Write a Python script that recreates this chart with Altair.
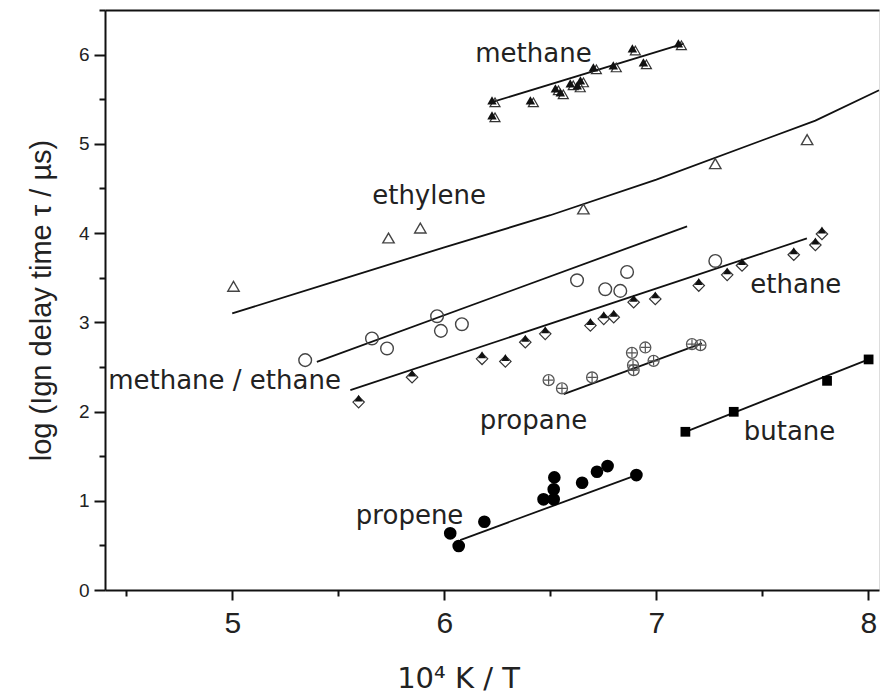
import altair as alt
import pandas as pd

# ---------------- data ----------------
methane_x = [6.225, 6.225, 6.406, 6.524, 6.547, 6.594, 6.627, 6.642, 6.703, 6.797, 6.887, 6.939, 7.104]
methane_y = [5.487, 5.319, 5.487, 5.622, 5.577, 5.678, 5.655, 5.711, 5.857, 5.879, 6.069, 5.913, 6.126]
methane_fit_x = [6.225, 7.129]
methane_fit_y = [5.468, 6.122]

ethylene_x = [5.006, 5.737, 5.887, 6.656, 7.278, 7.711]
ethylene_y = [3.404, 3.945, 4.057, 4.270, 4.778, 5.047]
ethylene_fit_x = [5.0, 5.5, 6.0, 6.5, 7.0, 7.5, 7.75, 8.05]
ethylene_fit_y = [3.10, 3.47, 3.84, 4.20, 4.60, 5.04, 5.26, 5.60]

mixture_x = [5.344, 5.659, 5.730, 5.966, 5.984, 6.083, 6.626, 6.759, 6.830, 6.862, 7.278]
mixture_y = [2.576, 2.819, 2.707, 3.068, 2.904, 2.979, 3.471, 3.371, 3.352, 3.564, 3.688]
mixture_fit_x = [5.399, 7.145]
mixture_fit_y = [2.557, 4.076]

ethane_x = [5.596, 5.848, 6.178, 6.288, 6.382, 6.476, 6.689, 6.752, 6.799, 6.893, 6.995,
            7.200, 7.334, 7.404, 7.648, 7.750, 7.781]
ethane_y = [2.128, 2.408, 2.613, 2.584, 2.800, 2.893, 2.986, 3.061, 3.080, 3.248, 3.285,
            3.434, 3.554, 3.659, 3.779, 3.889, 4.012]
ethane_fit_x = [5.557, 7.71]
ethane_fit_y = [2.240, 3.940]

propane_x = [6.492, 6.555, 6.697, 6.885, 6.948, 6.893, 6.890, 6.987, 7.168, 7.208]
propane_y = [2.352, 2.259, 2.382, 2.658, 2.718, 2.464, 2.520, 2.568, 2.755, 2.744]
propane_fit_x = [6.563, 7.215]
propane_fit_y = [2.195, 2.763]

propene_x = [6.028, 6.068, 6.189, 6.468, 6.516, 6.516, 6.519, 6.650, 6.720, 6.770, 6.906]
propene_y = [0.635, 0.493, 0.765, 1.016, 1.016, 1.128, 1.262, 1.202, 1.325, 1.389, 1.288]
propene_fit_x = [6.075, 6.906]
propene_fit_y = [0.560, 1.288]

butane_x = [7.137, 7.365, 7.805, 8.001]
butane_y = [1.773, 1.997, 2.344, 2.584]
butane_fit_x = [7.137, 8.001]
butane_fit_y = [1.773, 2.584]

label_text = ["methane", "ethylene", "methane / ethane", "ethane", "propane", "butane", "propene"]
label_x = [6.146, 5.660, 4.415, 7.443, 6.167, 7.412, 5.583]
label_y = [6.010, 4.420, 2.340, 3.415, 1.890, 1.773, 0.830]

x_major = [5, 6, 7, 8]
x_minor = [4.5, 5.5, 6.5, 7.5]
y_major = [0, 1, 2, 3, 4, 5, 6]
y_minor = [0.5, 1.5, 2.5, 3.5, 4.5, 5.5, 6.5]


def df(xs, ys):
    return pd.DataFrame({"x": xs, "y": ys})


XS = alt.Scale(domain=[4.4, 8.05], nice=False, zero=False)
YS = alt.Scale(domain=[0, 6.5], nice=False, zero=False)


def pos():
    return dict(
        x=alt.X("x:Q", scale=XS, axis=None),
        y=alt.Y("y:Q", scale=YS, axis=None),
    )


axis_common = dict(
    domainColor="#111", domainWidth=2, tickColor="#111", tickWidth=2,
    labelColor="#222", titleColor="#222", grid=False,
)

# major axes
major = alt.Chart(df(butane_x, butane_y)).mark_point(opacity=0).encode(
    x=alt.X("x:Q", scale=XS, axis=alt.Axis(
        orient="bottom", values=x_major, title="10⁴ K / T", tickSize=10, labelPadding=8,
        labelFont="Liberation Sans", labelFontSize=30, labelFlush=False,
        titleFont="DejaVu Sans", titleFontSize=29, titleFontWeight="normal",
        titleX=353, titleY=97, titleBaseline="alphabetic", titleAlign="center",
        format="d", **axis_common)),
    y=alt.Y("y:Q", scale=YS, axis=alt.Axis(
        orient="left", values=y_major, title="log (Ign delay time τ / µs)", tickSize=11,
        labelPadding=5, labelFont="Liberation Sans", labelFontSize=19, labelFlush=False,
        titleFont="Liberation Sans", titleFontSize=29, titleFontWeight="normal",
        titlePadding=22, format="d", **axis_common)),
)

# minor ticks
minor = alt.Chart(df(butane_x, butane_y)).mark_point(opacity=0).encode(
    x=alt.X("x:Q", scale=XS, axis=alt.Axis(
        orient="bottom", values=x_minor, title="", labels=False, tickSize=6, domain=False,
        tickColor="#111", tickWidth=2, grid=False)),
    y=alt.Y("y:Q", scale=YS, axis=alt.Axis(
        orient="left", values=y_minor, title="", labels=False, tickSize=6, domain=False,
        tickColor="#111", tickWidth=2, grid=False)),
)

# top frame line
top = alt.Chart(df(butane_x, butane_y)).mark_point(opacity=0).encode(
    x=alt.X("x:Q", scale=XS, axis=alt.Axis(
        orient="top", values=x_major, title="", labels=False, ticks=False,
        domainColor="#111", domainWidth=2, grid=False)),
    y=alt.Y("y:Q", scale=YS, axis=None),
)


def line(xs, ys):
    return alt.Chart(df(xs, ys)).mark_line(color="#111", strokeWidth=1.8).encode(**pos())


def pts(xs, ys, **kw):
    return alt.Chart(df(xs, ys)).mark_point(**kw).encode(**pos())


layers = [
    major, minor, top,
    line(methane_fit_x, methane_fit_y),
    line(ethylene_fit_x, ethylene_fit_y),
    line(mixture_fit_x, mixture_fit_y),
    line(ethane_fit_x, ethane_fit_y),
    line(propane_fit_x, propane_fit_y),
    line(propene_fit_x, propene_fit_y),
    line(butane_fit_x, butane_fit_y),
    # ethylene open triangles
    pts(ethylene_x, ethylene_y, shape="triangle-up", filled=False, size=130,
        color="#444", strokeWidth=1.4, opacity=1),
    # methane: open + filled triangles
    pts(methane_x, methane_y, shape="triangle-up", filled=False, size=100,
        color="#333", strokeWidth=1.2, xOffset=3, yOffset=2, opacity=1),
    pts(methane_x, methane_y, shape="triangle-up", filled=True, size=90,
        color="#111", opacity=1),
    # methane / ethane open circles
    pts(mixture_x, mixture_y, shape="circle", filled=False, size=160,
        color="#444", strokeWidth=1.4, opacity=1),
    # ethane: open lower half + filled upper half
    pts(ethane_x, ethane_y, shape="diamond", filled=False, size=130,
        color="#333", strokeWidth=1.2, yOffset=2, opacity=1),
    pts(ethane_x, ethane_y, shape="triangle-up", filled=True, size=65,
        color="#111", yOffset=-2, opacity=1),
    # propane: circled plus
    pts(propane_x, propane_y, shape="circle", filled=False, size=120,
        color="#555", strokeWidth=1.3, opacity=1),
    pts(propane_x, propane_y, shape="M-1,0H1M0,-1V1", filled=False, size=90,
        color="#555", strokeWidth=1.2, opacity=1),
    # propene filled circles
    pts(propene_x, propene_y, shape="circle", filled=True, size=160,
        color="#000", opacity=1),
    # butane filled squares
    pts(butane_x, butane_y, shape="square", filled=True, size=95,
        color="#000", opacity=1),
    # labels
    alt.Chart(pd.DataFrame({"t": label_text, "x": label_x, "y": label_y})).mark_text(
        align="left", baseline="middle", font="DejaVu Sans", fontSize=26, color="#222"
    ).encode(x=alt.X("x:Q", scale=XS, axis=None), y=alt.Y("y:Q", scale=YS, axis=None), text="t:N"),
]

chart = alt.layer(*layers).resolve_axis(x="independent", y="independent").properties(
    width=774, height=580, autosize="none",
    padding={"left": 105, "top": 10, "right": 1, "bottom": 105},
).configure_view(stroke=None).configure(background="white")

chart.save("out.html", embed_options={"renderer": "svg", "actions": False})
